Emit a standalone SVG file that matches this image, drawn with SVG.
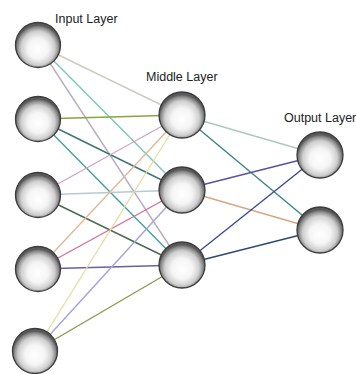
<svg xmlns="http://www.w3.org/2000/svg" width="356" height="374" viewBox="0 0 356 374">
<defs>
<radialGradient id="sph" cx="0.5" cy="0.56" r="0.5" fx="0.5" fy="0.6">
<stop offset="0" stop-color="#ffffff"/>
<stop offset="0.45" stop-color="#f5f5f5"/>
<stop offset="0.75" stop-color="#cfcfcf"/>
<stop offset="0.92" stop-color="#8a8a8a"/>
<stop offset="1" stop-color="#5a5a5a"/>
</radialGradient>
</defs>
<style>
.node{fill:url(#sph);stroke:#3c3c3c;stroke-width:1.3}
.lbl{font-family:"Liberation Sans",Arial,sans-serif;font-size:12.5px;fill:#222}
.c line{stroke-width:1.4;fill:none}
</style>
<rect width="356" height="374" fill="#ffffff"/>
<g id="connectors" class="c">
<line x1="38" y1="45" x2="182" y2="115" stroke="#cdccbd"/>
<line x1="38" y1="45" x2="182" y2="190" stroke="#7cc6bf"/>
<line x1="38" y1="45" x2="182" y2="265" stroke="#b9adc2"/>
<line x1="38" y1="119" x2="182" y2="115" stroke="#86a63a"/>
<line x1="38" y1="119" x2="182" y2="190" stroke="#3c7674"/>
<line x1="38" y1="119" x2="182" y2="265" stroke="#3fa0a0"/>
<line x1="38" y1="195" x2="182" y2="115" stroke="#d2a6c6"/>
<line x1="38" y1="195" x2="182" y2="190" stroke="#b4cad8"/>
<line x1="38" y1="195" x2="182" y2="265" stroke="#4b6a4f"/>
<line x1="38" y1="269" x2="182" y2="115" stroke="#e0b995"/>
<line x1="38" y1="269" x2="182" y2="190" stroke="#d0709a"/>
<line x1="38" y1="269" x2="182" y2="265" stroke="#6a5fa2"/>
<line x1="35" y1="351" x2="182" y2="115" stroke="#e2e0a2"/>
<line x1="35" y1="351" x2="182" y2="190" stroke="#a6a2e0"/>
<line x1="35" y1="351" x2="182" y2="265" stroke="#8c9a52"/>
<line x1="182" y1="115" x2="320" y2="155" stroke="#a9c8c0"/>
<line x1="182" y1="115" x2="320" y2="230" stroke="#3a8686"/>
<line x1="182" y1="190" x2="320" y2="155" stroke="#5552a2"/>
<line x1="182" y1="190" x2="320" y2="230" stroke="#d6a684"/>
<line x1="182" y1="265" x2="320" y2="155" stroke="#3a4a92"/>
<line x1="182" y1="265" x2="320" y2="230" stroke="#2c4a70"/>
</g>
<g id="input1"><circle class="node" cx="38" cy="45" r="22.5"/></g>
<g id="input2"><circle class="node" cx="38" cy="119" r="22.5"/></g>
<g id="input3"><circle class="node" cx="38" cy="195" r="22.5"/></g>
<g id="input4"><circle class="node" cx="38" cy="269" r="22.5"/></g>
<g id="input5"><circle class="node" cx="35" cy="351" r="22.5"/></g>
<g id="middle1"><circle class="node" cx="182" cy="115" r="23"/></g>
<g id="middle2"><circle class="node" cx="182" cy="190" r="23"/></g>
<g id="middle3"><circle class="node" cx="182" cy="265" r="23"/></g>
<g id="output1"><circle class="node" cx="320" cy="155" r="23"/></g>
<g id="output2"><circle class="node" cx="320" cy="230" r="23"/></g>
<g id="labels">
<text class="lbl" x="55" y="23">Input Layer</text>
<text class="lbl" x="146" y="81">Middle Layer</text>
<text class="lbl" x="284" y="122">Output Layer</text>
</g>
</svg>
